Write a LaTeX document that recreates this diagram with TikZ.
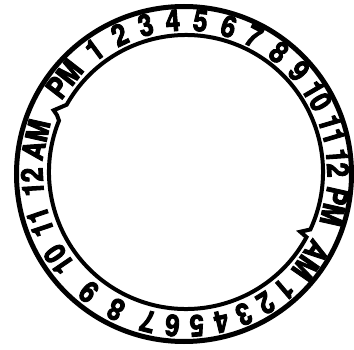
\documentclass[tikz,border=0pt]{standalone}
\usepackage{fontspec}
\setmainfont{TeX Gyre Heros}
\newfontfamily\dialfont[FakeStretch=0.86, FakeBold=3]{TeX Gyre Heros}
\begin{document}
\begin{tikzpicture}[
  outerring/.style={line width=5pt},
  innerring/.style={line width=4pt, line join=miter},
  lbl/.style={font=\dialfont\fontsize{30}{30}\selectfont\bfseries, inner sep=0pt, outer sep=0pt}
]
\useasboundingbox (0,0) rectangle (354pt,349pt);
% outer ring
\draw[outerring] (184pt,175pt) circle[radius=167.5pt];
% inner ring with two break notches
\begin{scope}[shift={(186pt,177pt)}]
\draw[innerring] (158:137pt) arc[start angle=158, end angle=331.6, radius=137pt]
  -- (332.4:129pt) -- (335.2:137pt)
  arc[start angle=335.2, end angle=510.6, radius=137pt]
  -- (515:146pt) -- (516.2:141pt) -- cycle;
\end{scope}
% labels
\begin{scope}[shift={(185pt,176pt)}]
\foreach \nm/\ang/\txt in {
  pmA/142.1/PM, p1/126.3/1, p2/115.3/2, p3/104.9/3, p4/94.6/4, p5/84.2/5,
  p6/73.4/6, p7/63.3/7, p8/52.1/8, p9/41.8/9, p10/30.3/10, p11/16.5/11,
  p12/3.8/12, pmB/-12.6/PM,
  amA/-34.8/AM, a1/-49.5/1, a2/-58.2/2, a3/-67.4/3, a4/-76.3/4, a5/-85.6/5,
  a6/-94.8/6, a7/-104.1/7, a8/-116.9/8, a9/-129.1/9, a10/-145.6/10,
  a11/-161.3/11, a12/-176.6/12, amB/167.4/AM}
  \node[lbl, rotate=\ang-90] (\nm) at (\ang:153pt) {\txt};
\end{scope}
\end{tikzpicture}
\end{document}
